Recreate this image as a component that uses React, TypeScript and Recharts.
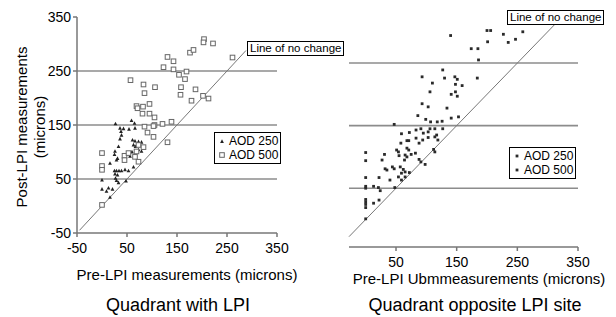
import { ScatterChart, Scatter, XAxis, YAxis, ReferenceLine, Legend } from "recharts";

const FONT = "'Liberation Sans', Arial, sans-serif";

// Quadrant with LPI
const lpiAod250: [number, number][] = [
  [27, 152], [59, 158], [65, 153], [36, 144], [38, 138], [39, 131], [54, 142], [66, 144], [43, 143],
  [36, 124], [61, 122], [66, 120], [73, 119], [79, 118], [63, 113], [67, 110], [73, 104], [79, 101],
  [33, 110], [26, 101], [25, 95], [31, 88], [29, 85], [16, 79], [60, 100], [56, 92],
  [25, 65], [29, 65], [34, 65], [39, 65], [46, 67], [53, 65], [63, 72],
  [26, 59], [31, 57], [27, 51], [29, 47], [33, 43], [0, 48], [48, 46],
  [0, 31], [9, 27], [13, 33], [21, 31], [16, 16],
];
const lpiAod500: [number, number][] = [
  [204, 309], [203, 303], [222, 301], [176, 284], [183, 289], [131, 276], [143, 268], [123, 257],
  [143, 253], [154, 243], [169, 249], [166, 235], [261, 275], [57, 233], [83, 225], [85, 209],
  [106, 220], [158, 220], [157, 206], [187, 216], [179, 195], [202, 204], [213, 199], [95, 189],
  [69, 185], [71, 181], [82, 184], [81, 171], [95, 171], [105, 164], [105, 150], [121, 152],
  [139, 156], [85, 147], [103, 148], [91, 136], [103, 128], [131, 118], [0, 98], [0, 74], [0, 67],
  [0, 2], [45, 93], [45, 85], [53, 98], [69, 101], [73, 113], [83, 109], [66, 91], [73, 82],
];

// Quadrant opposite LPI site
const oppAod500: [number, number][] = [
  [140, 294], [200, 302], [206, 302], [227, 296], [259, 300], [201, 284], [235, 283], [247, 288],
  [174, 273], [185, 273], [186, 255], [127, 239], [93, 228], [130, 226], [147, 228], [151, 224],
  [148, 216], [159, 214], [184, 226], [110, 218], [106, 204], [141, 200], [148, 204], [151, 197],
  [93, 185], [103, 180], [134, 178], [86, 166], [99, 160], [107, 156], [118, 156], [126, 157],
  [141, 162], [153, 164], [47, 152], [91, 145], [106, 145], [127, 145],
];
const oppAod250: [number, number][] = [
  [59, 137], [72, 139], [83, 143], [95, 138], [103, 140], [114, 145], [117, 135], [83, 130],
  [94, 127], [68, 126], [71, 126], [58, 122], [103, 131], [114, 132], [119, 127], [88, 122],
  [51, 111], [54, 108], [55, 102], [68, 114], [71, 111], [75, 104], [82, 106], [65, 103],
  [68, 100], [64, 95], [88, 96], [91, 92], [98, 88], [112, 112], [114, 108], [31, 104], [27, 95],
  [0, 107], [0, 94], [44, 84], [47, 81], [32, 81], [35, 79], [57, 84], [62, 80], [59, 74],
  [72, 75], [65, 76], [54, 68], [59, 63], [65, 68], [22, 67], [40, 63], [0, 67], [0, 53], [0, 50],
  [13, 53], [21, 51], [48, 51], [24, 46], [0, 32], [0, 28], [0, 24], [0, 19], [13, 26], [22, 31], [0, 1],
];

const leftTicks = [-50, 50, 150, 250, 350];
const rightTicks = [50, 150, 250, 350];
const gridLevels = [50, 150, 250];
const seriesNames = ["AOD 250", "AOD 500"];

const toPts = (arr: [number, number][]) => arr.map(([x, y]) => ({ x, y }));

const Tri = (p: any) => (
  <path d={`M${p.cx},${p.cy - 2.2}L${p.cx + 1.9},${p.cy + 1.4}L${p.cx - 1.9},${p.cy + 1.4}Z`} fill="#222" />
);
const Sq = (p: any) => (
  <rect x={p.cx - 2.3} y={p.cy - 2.3} width={4.6} height={4.6} fill="#fff" stroke="#666" strokeWidth={1} />
);
const Dot = (p: any) => <rect x={p.cx - 1.4} y={p.cy - 1.4} width={2.8} height={2.8} fill="#2a2a2a" />;

const tickStyle = { fill: "#000", fontSize: 14, fontFamily: FONT };

function LegendBox({ left }: { left: boolean }) {
  return (
    <div style={{ border: "1px solid #000", background: "#fff", padding: "1px 2px 1px 3px", fontSize: 12, lineHeight: "14px", fontFamily: FONT, color: "#000" }}>
      {seriesNames.map((n, i) => (
        <div key={n} style={{ display: "flex", alignItems: "center" }}>
          <svg width={8} height={10} style={{ marginRight: 3 }}>
            {left ? (i === 0 ? <Tri cx={4} cy={5.5} /> : <Sq cx={4} cy={5} />) : <Dot cx={4} cy={5} />}
          </svg>
          {n}
        </div>
      ))}
    </div>
  );
}

function Txt({ x, y, size, children, rotate }: any) {
  return (
    <div style={{ position: "absolute", left: x, top: y, transform: `translate(-50%,-50%)${rotate ? " rotate(-90deg)" : ""}`, fontSize: size, fontFamily: FONT, whiteSpace: "nowrap", textAlign: "center", lineHeight: "18px", color: "#000" }}>
      {children}
    </div>
  );
}

function NoChange({ x, y }: { x: number; y: number }) {
  return (
    <div style={{ position: "absolute", left: x, top: y, border: "1px solid #000", background: "#fff", fontSize: 11.5, lineHeight: "13px", padding: "0 2px", fontFamily: FONT, whiteSpace: "nowrap" }}>
      Line of no change
    </div>
  );
}

export default function App() {
  return (
    <div style={{ position: "absolute", left: 0, top: 0, width: 616, height: 317, background: "#fff", fontFamily: FONT }}>
      <div style={{ position: "absolute", left: 0, top: 0 }}>
        <ScatterChart width={300} height={317} margin={{ top: 17, right: 23, bottom: 54, left: 37 }}>
          <XAxis type="number" dataKey="x" domain={[-50, 350]} ticks={leftTicks} height={30} tick={tickStyle} tickSize={4} tickMargin={6} stroke="#777" strokeWidth={1.5} allowDataOverflow />
          <YAxis type="number" dataKey="y" domain={[-50, 350]} ticks={leftTicks} width={40} tick={tickStyle} tickSize={4} tickMargin={2} stroke="#777" strokeWidth={1.5} allowDataOverflow />
          {gridLevels.map((g) => (
            <ReferenceLine key={g} y={g} stroke="#8c8c8c" strokeWidth={1.6} />
          ))}
          <ReferenceLine segment={[{ x: -45, y: -45 }, { x: 288, y: 288 }]} stroke="#777" strokeWidth={1} />
          <Scatter name={seriesNames[0]} data={toPts(lpiAod250)} shape={Tri} isAnimationActive={false} />
          <Scatter name={seriesNames[1]} data={toPts(lpiAod500)} shape={Sq} isAnimationActive={false} />
          <Legend layout="horizontal" align="center" verticalAlign="middle" wrapperStyle={{ left: 214, top: 132, width: "auto" }} content={() => <LegendBox left />} />
        </ScatterChart>
      </div>
      <div style={{ position: "absolute", left: 300, top: 0 }}>
        <ScatterChart width={316} height={317} margin={{ top: 0.5, right: 38, bottom: 40, left: 49 }}>
          <XAxis type="number" dataKey="x" domain={[-27.5, 350]} ticks={rightTicks} height={30} tick={tickStyle} tickSize={4} tickMargin={6} stroke="#777" strokeWidth={1.5} allowDataOverflow />
          <YAxis type="number" dataKey="y" domain={[-44, 350]} hide allowDataOverflow />
          {gridLevels.map((g) => (
            <ReferenceLine key={g} y={g} stroke="#8c8c8c" strokeWidth={1.6} />
          ))}
          <ReferenceLine segment={[{ x: -27.5, y: -27.5 }, { x: 312, y: 312 }]} stroke="#777" strokeWidth={1} />
          <Scatter name={seriesNames[0]} data={toPts(oppAod250)} shape={Dot} isAnimationActive={false} />
          <Scatter name={seriesNames[1]} data={toPts(oppAod500)} shape={Dot} isAnimationActive={false} />
          <Legend layout="horizontal" align="center" verticalAlign="middle" wrapperStyle={{ left: 209, top: 147, width: "auto" }} content={() => <LegendBox left={false} />} />
        </ScatterChart>
      </div>
      <Txt x={31} y={127} size={15} rotate>
        Post-LPI measurements
        <br />
        (microns)
      </Txt>
      <Txt x={187} y={275} size={15}>Pre-LPI measurements (microns)</Txt>
      <Txt x={178} y={305} size={18}>Quadrant with LPI</Txt>
      <Txt x={479} y={279} size={15}>Pre-LPI Ubmmeasurements (microns)</Txt>
      <Txt x={475} y={305} size={18}>Quadrant opposite LPI site</Txt>
      <NoChange x={247} y={41} />
      <NoChange x={507} y={10} />
    </div>
  );
}
